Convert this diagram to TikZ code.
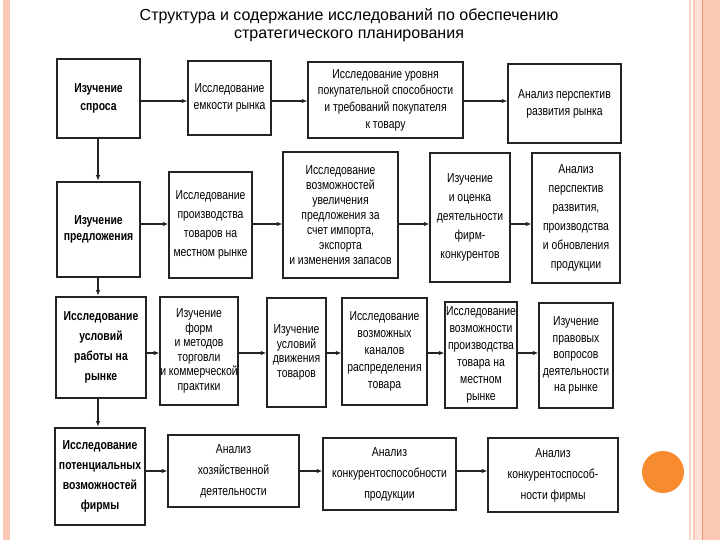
\documentclass[tikz,border=0pt]{standalone}
\usepackage{fontspec}
\setmainfont{Liberation Sans}
\newfontfamily\narrowfont[FakeStretch=0.8]{Liberation Sans}
\usetikzlibrary{arrows.meta, positioning}
\definecolor{slidepink}{RGB}{251,200,182}
\definecolor{stripeline}{RGB}{238,150,118}
\definecolor{paleline}{RGB}{240,214,196}
\definecolor{dotorange}{RGB}{246,139,48}
\definecolor{ink}{RGB}{35,35,35}
\tikzset{
  box/.style     = {rectangle, draw=ink, line width=1.2pt, align=center,
                    inner sep=0pt, text=black},
  mainbox/.style = {box, line width=2.6pt},
  arr/.style     = {-{Latex[length=5.5pt,width=4.5pt]}, draw=ink, line width=1.4pt},
}

\begin{document}
\begin{tikzpicture}[x=1pt, y=-1pt]
  \useasboundingbox (0,0) rectangle (720,540);

  % slide frame
  \fill[slidepink] (3,0) rectangle (10,540);
  \fill[slidepink!55] (695,0) rectangle (720,540);
  \fill[slidepink] (703,0) rectangle (720,540);
  \draw[paleline, line width=1.2pt] (690,0) -- (690,540);
  \draw[slidepink, line width=1.5pt] (694,0) -- (694,540);
  \draw[stripeline, line width=1.2pt] (702.5,0) -- (702.5,540);
  \fill[dotorange] (663,472) circle (21);

  % title
  \node[font=\fontsize{16}{18}\selectfont, align=center] (title) at (349,25)
     {Структура и содержание исследований по обеспечению\\
      стратегического планирования};

  % left column
  \foreach \n/\x/\y/\w/\h/\s/\t in {%
      b1/98.5/98.5/83/79/18/{Изучение\\спроса},
      b5/98.5/229.5/83/95/16/{Изучение\\предложения},
      b10/101/347.5/90/101/20/{Исследование\\условий\\работы на\\рынке},
      b16/100/476.5/90/97/20/{Исследование\\потенциальных\\возможностей\\фирмы}} {
     \node[mainbox, minimum width=\w, minimum height=\h,
           font={\narrowfont\bfseries\fontsize{13}{\s}\selectfont}] (\n) at (\x,\y) {\t};
  }

  % research boxes
  \foreach \n/\x/\y/\w/\h/\s/\t in {%
      b2/229.5/98/83/74/17/{Исследование\\емкости рынка},
      b3/385.5/100/155/76/16.7/{Исследование уровня\\покупательной способности\\и требований покупателя\\к товару},
      b4/564.5/103.5/113/79/17/{Анализ перспектив\\развития рынка},
      b6/210.5/225/83/106/19/{Исследование\\производства\\товаров на\\местном рынке},
      b7/340.5/215/115/126/15/{Исследование\\возможностей\\увеличения\\предложения за\\счет импорта,\\экспорта\\и изменения запасов},
      b8/470/217.5/80/129/19/{Изучение\\и оценка\\деятельности\\фирм-\\конкурентов},
      b9/576/218/88/130/19/{Анализ\\перспектив\\развития,\\производства\\и обновления\\продукции},
      b11/199/351/78/108/14.5/{Изучение\\форм\\и методов\\торговли\\и коммерческой\\практики},
      b12/296.5/352.5/59/109/14.7/{Изучение\\условий\\движения\\товаров},
      b13/384.5/351.5/85/107/17/{Исследование\\возможных\\каналов\\распределения\\товара},
      b14/481/355/72/106/17/{Исследование\\возможности\\производства\\товара на\\местном\\рынке},
      b15/576/355.5/74/105/16.5/{Изучение\\правовых\\вопросов\\деятельности\\на рынке},
      b17/233.5/471/131/72/21/{Анализ\\хозяйственной\\деятельности},
      b18/389.5/474/133/72/21/{Анализ\\конкурентоспособности\\продукции},
      b19/553/475/130/74/21/{Анализ\\конкурентоспособ-\\ности фирмы}} {
     \node[box, minimum width=\w, minimum height=\h,
           font={\narrowfont\fontsize{13}{\s}\selectfont}] (\n) at (\x,\y) {\t};
  }

  % arrow levels
  \coordinate (col) at (98,0);
  \coordinate (r1) at (0,101);
  \coordinate (r2) at (0,224);
  \coordinate (r3) at (0,353);
  \coordinate (r4) at (0,471);

  % down the left column
  \draw[arr] (col |- b1.south)  -- (col |- b5.north);
  \draw[arr] (col |- b5.south)  -- (col |- b10.north);
  \draw[arr] (col |- b10.south) -- (col |- b16.north);

  % along the rows
  \foreach \a/\b/\r in {b1/b2/r1, b2/b3/r1, b3/b4/r1,
                        b5/b6/r2, b6/b7/r2, b7/b8/r2, b8/b9/r2,
                        b10/b11/r3, b11/b12/r3, b12/b13/r3, b13/b14/r3, b14/b15/r3,
                        b16/b17/r4, b17/b18/r4, b18/b19/r4} {
     \draw[arr] (\a.east |- \r) -- (\b.west |- \r);
  }
\end{tikzpicture}
\end{document}
